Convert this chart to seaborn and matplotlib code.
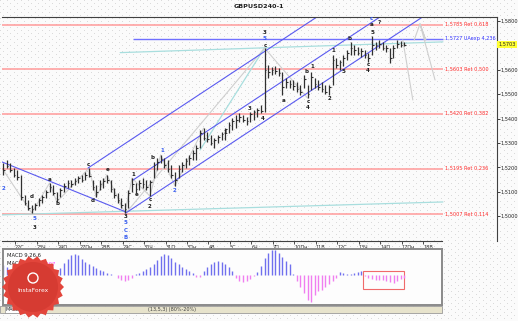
import numpy as np
import pandas as pd
import seaborn as sns
import matplotlib
matplotlib.use("Agg")
import matplotlib.pyplot as plt
from matplotlib.patches import Polygon, Rectangle
from matplotlib.transforms import IdentityTransform

# ---------------- data ----------------
bar_high = [1.5218,1.5230,1.5218,1.5197,1.5189,1.5169,1.5087,1.5066,1.5046,1.5054,
            1.5074,1.5087,1.5107,1.5136,1.5128,1.5099,1.5115,1.5136,1.5148,1.5148,
            1.5156,1.5165,1.5169,1.5181,1.5197,1.5148,1.5128,1.5148,1.5156,1.5169,
            1.5148,1.5115,1.5095,1.5074,1.5054,1.5107,1.5156,1.5136,1.5148,1.5156,
            1.5148,1.5148,1.5222,1.5238,1.5251,1.5238,1.5230,1.5210,1.5181,1.5210,
            1.5222,1.5238,1.5251,1.5271,1.5291,1.5353,1.5361,1.5345,1.5332,1.5320,
            1.5332,1.5345,1.5361,1.5386,1.5402,1.5414,1.5423,1.5414,1.5406,1.5427,
            1.5435,1.5443,1.5455,1.5689,1.5620,1.5611,1.5615,1.5607,1.5591,1.5566,
            1.5558,1.5558,1.5550,1.5537,1.5579,1.5537,1.5591,1.5566,1.5558,1.5550,
            1.5537,1.5537,1.5660,1.5648,1.5640,1.5660,1.5681,1.5714,1.5701,1.5693,
            1.5689,1.5681,1.5669,1.5738,1.5714,1.5722,1.5714,1.5701,1.5689,1.5701,
            1.5722,1.5718,1.5714]
bar_low = [1.5169,1.5197,1.5181,1.5160,1.5148,1.5066,1.5046,1.5025,1.5013,1.5025,
           1.5041,1.5054,1.5074,1.5099,1.5087,1.5058,1.5078,1.5099,1.5115,1.5119,
           1.5128,1.5136,1.5140,1.5148,1.5160,1.5107,1.5078,1.5107,1.5115,1.5136,
           1.5099,1.5074,1.5054,1.5033,1.5013,1.5033,1.5099,1.5095,1.5107,1.5115,
           1.5107,1.5082,1.5156,1.5189,1.5218,1.5197,1.5181,1.5156,1.5124,1.5156,
           1.5181,1.5197,1.5210,1.5230,1.5230,1.5279,1.5312,1.5304,1.5291,1.5279,
           1.5300,1.5312,1.5312,1.5341,1.5353,1.5361,1.5386,1.5386,1.5373,1.5386,
           1.5394,1.5406,1.5423,1.5427,1.5566,1.5579,1.5583,1.5574,1.5496,1.5525,
           1.5525,1.5517,1.5509,1.5496,1.5525,1.5484,1.5517,1.5525,1.5517,1.5509,
           1.5500,1.5496,1.5537,1.5607,1.5599,1.5615,1.5640,1.5660,1.5660,1.5660,
           1.5652,1.5648,1.5632,1.5660,1.5681,1.5689,1.5681,1.5673,1.5628,1.5648,
           1.5689,1.5693,1.5697]
bar_close = [1.5190,1.5205,1.5190,1.5170,1.5160,1.5080,1.5055,1.5035,1.5030,1.5045,
             1.5065,1.5080,1.5100,1.5120,1.5095,1.5070,1.5105,1.5125,1.5135,1.5130,
             1.5145,1.5155,1.5150,1.5170,1.5165,1.5120,1.5100,1.5130,1.5145,1.5150,
             1.5110,1.5085,1.5065,1.5045,1.5030,1.5095,1.5130,1.5110,1.5135,1.5130,
             1.5120,1.5140,1.5210,1.5220,1.5235,1.5210,1.5195,1.5170,1.5150,1.5195,
             1.5210,1.5225,1.5240,1.5260,1.5280,1.5340,1.5320,1.5315,1.5300,1.5310,
             1.5325,1.5335,1.5355,1.5375,1.5390,1.5395,1.5405,1.5395,1.5390,1.5420,
             1.5425,1.5435,1.5430,1.5600,1.5590,1.5600,1.5595,1.5585,1.5530,1.5550,
             1.5540,1.5535,1.5520,1.5510,1.5560,1.5500,1.5570,1.5540,1.5530,1.5520,
             1.5510,1.5530,1.5640,1.5620,1.5630,1.5650,1.5670,1.5690,1.5680,1.5670,
             1.5675,1.5660,1.5650,1.5700,1.5700,1.5705,1.5690,1.5690,1.5650,1.5690,
             1.5705,1.5700,1.5703]
macd_hist_e4 = [10,8,5,3,1,-2,-4,-5,-5,-4,-3,-1,1,3,4,5,7,12,16,20,
                21,20,16,13,11,9,7,5,4,2,1,0.5,-3,-5,-6,-5,-3,1,2,4,
                6,8,11,15,19,21,20,17,13,11,8,6,4,2,-1.5,-1.5,4,8,11,13,
                14,13,11,8,4,-3,-6,-7,-6,-4,-1,3,9,17,22,25,25,22,18,14,
                11,1,-6,-12,-18,-25,-27,-20,-16,-15,-12,-9,-6,-3,3,2,1,1,2,3,
                4,-1,-3,-4,-5,-5,-5,-6,-7,-8,-6,-4,-3]

day_labels = ["22С","23Ч","24П","27Пн","28В","29С","30Ч","31П","3Пн","4В",
              "5С","6Ч","7П","10Пн","11В","12С","13Ч","14П","17Пн","18В"]
price_ticks = [1.50,1.51,1.52,1.53,1.54,1.55,1.56,1.57,1.58]
last_price = 1.5703

fib_levels = [1.5785, 1.5727, 1.5603, 1.5420, 1.5195, 1.5007]
fib_labels = ["1,5785 Ret 0,618", "1,5727 UAexp 4,236", "1,5603 Ret 0,500",
              "1,5420 Ret 0,382", "1,5195 Ret 0,236", "1,5007 Ret 0,114"]
fib_kind = ["ret", "exp", "ret", "ret", "ret", "ret"]

wave_bar = [0, 8.1, 8.7, 8.7, 13.1, 15.1, 23.7, 25.1, 29.3, 34.3, 34.3, 34.3, 34.3,
            36.3, 37.4, 41, 41, 41.8, 44.4, 48, 62, 68.9, 72.6, 73.1, 73.1, 73.1,
            78.4, 84.6, 86.2, 85.1, 85.1, 91, 92.1, 94.9, 96.8, 103, 101.9, 101.9,
            102.7, 103.0, 104.9]
wave_price = [1.5115, 1.5080, 1.4992, 1.4955, 1.5150, 1.5050, 1.5212, 1.5066, 1.5189,
              1.5000, 1.4972, 1.4943, 1.4914, 1.5172, 1.5088, 1.5068, 1.5040, 1.5242,
              1.5268, 1.5105, 1.5341, 1.5442, 1.5402, 1.5752, 1.5726, 1.5701, 1.5472,
              1.5592, 1.5612, 1.5470, 1.5446, 1.5484, 1.5677, 1.5592, 1.5727, 1.5752,
              1.5620, 1.5596, 1.5808, 1.5784, 1.5792]
wave_text = ["2", "d", "5", "3", "a", "b", "c", "d", "e", "3", "5", "C", "B",
             "1", "e", "c", "2", "b", "1", "2", "1", "3", "4", "3", "5", "c",
             "a", "b", "1", "c", "4", "2", "1", "5", "b", "5", "c", "4",
             "c", "a", "?"]
wave_blue = [1, 0, 1, 0, 0, 0, 0, 0, 0, 0, 1, 1, 1,
             0, 0, 0, 0, 0, 1, 1, 0, 0, 0, 0, 1, 0,
             0, 0, 0, 0, 0, 0, 0, 0, 0, 0, 0, 0,
             1, 0, 0]

# channel lines (bar, price) start / end
chan_start_bar = [-0.3, 23.7, 36.3, 34.3]
chan_start_px = [1.5222, 1.5197, 1.5148, 1.5013]
chan_end_bar = [34.3, 87.6, 105.2, 117.1]
chan_end_px = [1.5017, 1.5816, 1.5816, 1.5816]

zig1_bar = [0, 8, 13, 15, 24, 26, 29, 34, 36, 41, 44, 48, 56]
zig1_px = [1.5190, 1.5013, 1.5136, 1.5058, 1.5197, 1.5078, 1.5169, 1.5013,
           1.5156, 1.5082, 1.5251, 1.5124, 1.5361]
zig2_bar = [34.3, 73, 85]
zig2_px = [1.5013, 1.5689, 1.5484]
zig3_bar = [111.6, 114.4]
zig3_px = [1.5722, 1.5476]
zig4_bar = [114.8, 116.4, 118.0, 116.4, 120.6]
zig4_px = [1.5722, 1.5788, 1.5722, 1.5788, 1.5558]
cyan_bar = [[-0.3, 122.8], [32.7, 122.8], [55, 73]]
cyan_px = [[1.5005, 1.5058], [1.5670, 1.5714], [1.5271, 1.5689]]

# ---------------- figure ----------------
W, H = 518, 321
sns.set_theme(style="white")
plt.rcParams['font.family'] = ['DejaVu Sans']
fig = plt.figure(figsize=(W / 100, H / 100), dpi=100)
fig.patch.set_facecolor("#fbfbfb")

# dotted background texture
bg = np.full((H, W, 3), 251, dtype=np.uint8)
yy, xx = np.mgrid[0:H, 0:W]
mask = ((yy % 6 == 0) & (xx % 7 == 0)) | ((yy % 6 == 3) & (xx % 7 == 3))
bg[mask] = 218
fig.figimage(bg, xo=0, yo=0, zorder=-10)


def px_axes(x0, y0, x1, y1):
    a = fig.add_axes([x0 / W, 1 - y1 / H, (x1 - x0) / W, (y1 - y0) / H])
    a.set_facecolor("none")
    return a

ax = px_axes(2, 17, 497, 241)
XL = (-0.3, 137.9)
ax.set_xlim(*XL)
ax.set_ylim(1.4898, 1.5816)

k = np.arange(len(bar_close))
df = pd.DataFrame({"bar": k, "high": bar_high, "low": bar_low, "close": bar_close})

# fib / expansion levels
for lv, lb, kd in zip(fib_levels, fib_labels, fib_kind):
    if kd == "ret":
        ax.hlines(lv, XL[0], 122.8, color="#ff9a9a", lw=1.1, zorder=1)
        tc = "#ff2a2a"
    else:
        ax.hlines(lv, 36.3, 122.8, color="#7070ff", lw=1.0, zorder=1)
        tc = "#3030ff"
    ax.text(123.4, lv, lb, color=tc, fontsize=3.6, va="center", ha="left", zorder=5)

# cyan guide lines
for cb, cp in zip(cyan_bar, cyan_px):
    ax.plot(cb, cp, color="#a8dede", lw=0.9, zorder=1)

# gray zigzags via seaborn
for zb, zp in [(zig1_bar, zig1_px), (zig2_bar, zig2_px), (zig3_bar, zig3_px), (zig4_bar, zig4_px)]:
    sns.lineplot(x=zb, y=zp, sort=False, estimator=None, color="#cfcfcf", lw=0.8, ax=ax, zorder=1)

# channel lines
for sb, sp, eb, ep in zip(chan_start_bar, chan_start_px, chan_end_bar, chan_end_px):
    ax.plot([sb, eb], [sp, ep], color="#5a5af0", lw=0.8, zorder=2)

# price bars
ax.vlines(df["bar"], df["low"], df["high"], color="#303030", lw=0.9, zorder=3)
ax.hlines(df["close"], df["bar"], df["bar"] + 0.45, color="#303030", lw=0.8, zorder=3)

# wave labels
for wb, wp, wt, wc in zip(wave_bar, wave_price, wave_text, wave_blue):
    ax.text(wb, wp, wt, color="#3a5ff0" if wc else "#202020", fontsize=4,
            fontweight="bold", ha="center", va="center", zorder=6)

# axes styling
ax.spines["left"].set_visible(False)
for s in ["top", "right", "bottom"]:
    ax.spines[s].set_color("#404040")
    ax.spines[s].set_linewidth(0.8)
ax.spines["bottom"].set_bounds(XL[0], 122.5)
ax.yaxis.tick_right()
ax.set_yticks(price_ticks)
# the 1,5700 label is hidden behind the current-price marker in the reference
ax.set_yticklabels(["" if abs(v - 1.57) < 1e-9 else f"{v:.4f}".replace(".", ",")
                    for v in price_ticks])
ax.tick_params(axis="y", which="both", right=True, left=False, length=2, width=0.6,
               pad=0.5, labelsize=3.6, colors="#202020")
tick_pos = [3.35 + 6 * d for d in range(len(day_labels))]
ax.set_xticks(tick_pos)
ax.set_xticklabels(day_labels)
ax.tick_params(axis="x", bottom=True, length=2, width=0.6, pad=0.8, labelsize=3.6,
               colors="#303030", direction="out")
for lab in ax.get_xticklabels():
    lab.set_ha("left")
ax.grid(False)

# current price marker
ax.annotate(f"{last_price:.4f}".replace(".", ","), xy=(1.0, last_price),
            xycoords=("axes fraction", "data"), xytext=(1.2, 0), textcoords="offset points",
            fontsize=3.6, va="center", ha="left", color="#202020",
            bbox=dict(boxstyle="square,pad=0.25", fc="#ffff33", ec="none"), zorder=7)

# title
fig.text(259 / W, 1 - 6 / H, "GBPUSD240-1", ha="center", va="center",
         fontsize=4.6, fontweight="bold", color="#202020")

# ---------------- MACD panel ----------------
mx = px_axes(3, 249, 442, 305)
mx.set_facecolor("#fdfdfd")
mx.set_xlim(-0.02, 122.54)
mx.set_ylim(-0.0030, 0.0026)
mvals = np.array(macd_hist_e4) * 1e-4
mdf = pd.DataFrame({"bar": k, "hist": mvals})
pos = mdf[mdf["hist"] >= 0]
neg = mdf[mdf["hist"] < 0]
mx.vlines(pos["bar"], 0, pos["hist"], color="#7070ee", lw=1.0)
mx.vlines(neg["bar"], 0, neg["hist"], color="#f07ef0", lw=1.0)
mx.add_patch(Rectangle((100.5, -0.0014), 11.4, 0.0018, fill=False, ec="#f06a6a", lw=0.8))
mx.set_xticks([])
mx.set_yticks([])
for s in mx.spines.values():
    s.set_color("#8a8a8a")
    s.set_linewidth(1.4)
mx.text(0.01, 0.93, "MACD 9,26,6", transform=mx.transAxes, fontsize=3.8, va="top", color="#202020")
mx.text(0.01, 0.78, "MACD =", transform=mx.transAxes, fontsize=3.8, va="top", color="#202020")
mx.text(0.075, 0.78, "-0,0007", transform=mx.transAxes, fontsize=3.8, va="top", color="#ff40ff")

# bottom tab strip
fig.add_artist(Rectangle((0, H - 313), 442, 7, transform=IdentityTransform(),
                         fc="#e7e3cc", ec="#9a9a9a", lw=0.6))
fig.text(6 / W, 1 - 309.5 / H, "MACD", fontsize=3.5, va="center", color="#202020",
         bbox=dict(boxstyle="square,pad=0.15", fc="white", ec="#808080", lw=0.4))
fig.text(148 / W, 1 - 309.5 / H, "(13,5,3) (80%-20%)", fontsize=3.5, va="center", color="#404040")

# InstaForex seal
cx, cy = 33, H - 287
n = 22
ang = np.linspace(0, 2 * np.pi, 2 * n, endpoint=False)
rad = np.where(np.arange(2 * n) % 2 == 0, 31, 27.5)
pts = np.column_stack([cx + rad * np.cos(ang), cy + rad * np.sin(ang)])
fig.add_artist(Polygon(pts, closed=True, transform=IdentityTransform(), fc="#e2453b", ec="none", zorder=20))
fig.add_artist(plt.Circle((cx, cy), 25, transform=IdentityTransform(), fc="#d63b32", ec="none", zorder=21))
fig.add_artist(plt.Circle((cx, cy + 9), 5, transform=IdentityTransform(), fc="none", ec="white", lw=1.0, zorder=22))
fig.text(cx / W, (cy - 4) / H, "InstaForex", fontsize=4.3, color="white", ha="center", va="center", zorder=23)

fig.savefig("out.png", dpi=100, facecolor=fig.get_facecolor())
